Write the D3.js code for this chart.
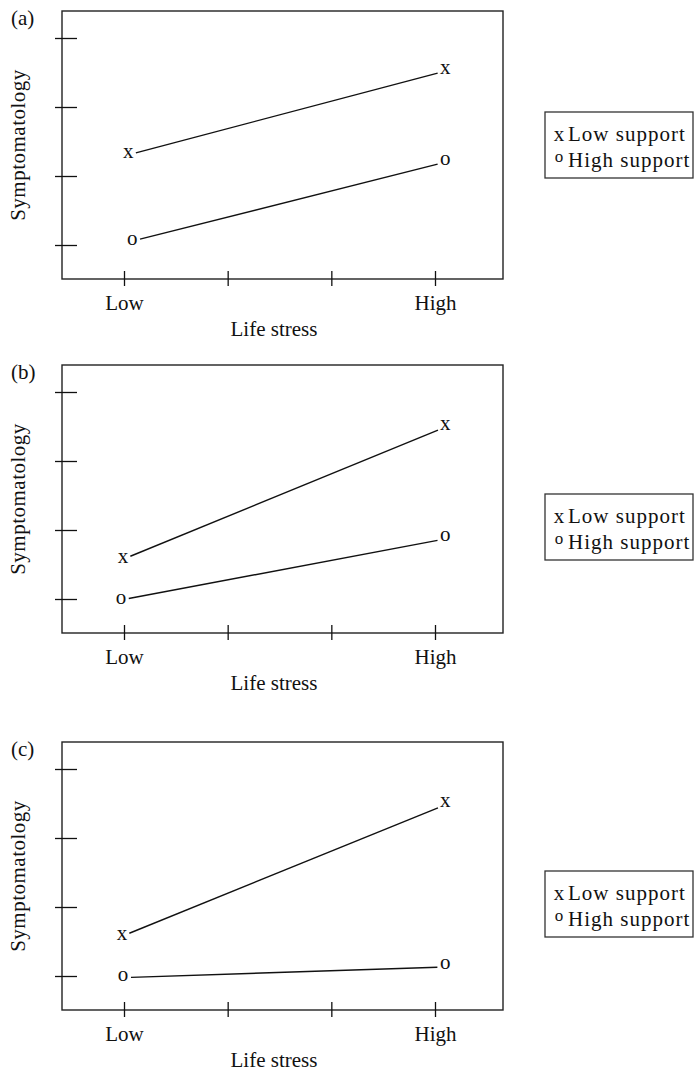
<!DOCTYPE html>
<html>
<head>
<meta charset="utf-8">
<script src="https://cdn.jsdelivr.net/npm/d3@7"></script>
<style>
  body { margin: 0; background: #fff; }
  text { font-family: "Liberation Serif", "Times New Roman", serif; fill: #111; }
</style>
</head>
<body>
<script>
// data
var panelLabels = ["(a)", "(b)", "(c)"];
var stressTicks = ["Low", "", "", "High"];
// symptomatology (y ticks at 1..4), [low stress, high stress]
var lowSupport = [[2.32, 3.55], [1.59, 3.52], [1.59, 3.51]];
var highSupport = [[1.07, 2.23], [1.00, 1.90], [0.99, 1.16]];
// where the markers sit along the stress axis (ticks at 0..3)
var lowSupportX = [[0.04, 3.10], [-0.01, 3.10], [-0.02, 3.10]];
var highSupportX = [[0.08, 3.10], [-0.03, 3.10], [-0.01, 3.10]];
var legendLabels = ["Low support", "High support"];
var markers = ["x", "o"];

var W = 694, H = 1071;
var boxLeft = 62, boxRight = 503, boxH = 268;
var tops = [11, 365, 742];
var legendTops = [112, 494, 871];
var fontSize = 21;

var svg = d3.select("body").append("svg")
    .attr("width", W)
    .attr("height", H);

var xScale = d3.scaleLinear().domain([0, 3]).range([124, 435]);

function drawPanel(p) {
    var top = tops[p];
    var bottom = top + boxH;
    var g = svg.append("g");

    var yScale = d3.scaleLinear().domain([1, 4]).range([top + 234, top + 27]);

    // frame
    g.append("rect")
        .attr("x", boxLeft)
        .attr("y", top)
        .attr("width", boxRight - boxLeft)
        .attr("height", boxH)
        .style("fill", "none")
        .style("stroke", "#222")
        .style("stroke-width", 1.4);

    // x axis ticks + labels
    var xAxis = d3.axisBottom(xScale)
        .tickValues([0, 1, 2, 3])
        .tickSize(7)
        .tickFormat(function (d) { return stressTicks[d]; });
    var gx = g.append("g")
        .attr("transform", "translate(0," + bottom + ")")
        .call(xAxis);
    gx.select(".domain").remove();
    gx.selectAll(".tick line").attr("y1", -8).style("stroke", "#111").style("stroke-width", 1.3);
    gx.selectAll(".tick text")
        .attr("y", 31).attr("dy", null)
        .style("font-family", "Liberation Serif, serif")
        .style("font-size", fontSize + "px")
        .style("fill", "#111");

    // y axis ticks, no labels
    var yAxis = d3.axisLeft(yScale)
        .tickValues([1, 2, 3, 4])
        .tickSize(7)
        .tickFormat("");
    var gy = g.append("g")
        .attr("transform", "translate(" + boxLeft + ",0)")
        .call(yAxis);
    gy.select(".domain").remove();
    gy.selectAll(".tick line").attr("x1", 15).style("stroke", "#111").style("stroke-width", 1.3);

    // axis titles
    g.append("text")
        .attr("x", 274)
        .attr("y", bottom + 57)
        .attr("text-anchor", "middle")
        .style("font-size", fontSize + "px")
        .text("Life stress");

    g.append("text")
        .attr("transform", "translate(25," + (top + boxH / 2) + ") rotate(-90)")
        .attr("text-anchor", "middle")
        .style("font-size", fontSize + "px")
        .style("letter-spacing", "0.5px")
        .text("Symptomatology");

    g.append("text")
        .attr("x", 11)
        .attr("y", top + 14)
        .style("font-size", fontSize + "px")
        .text(panelLabels[p]);

    // series
    var series = [
        { ys: lowSupport[p], xs: lowSupportX[p], m: markers[0] },
        { ys: highSupport[p], xs: highSupportX[p], m: markers[1] }
    ];
    series.forEach(function (s) {
        var x0 = xScale(s.xs[0]), y0 = yScale(s.ys[0]);
        var x1 = xScale(s.xs[1]), y1 = yScale(s.ys[1]);
        var len = Math.sqrt((x1 - x0) * (x1 - x0) + (y1 - y0) * (y1 - y0));
        var cut = 8;
        var ux = (x1 - x0) / len, uy = (y1 - y0) / len;
        g.append("line")
            .attr("x1", x0 + ux * cut)
            .attr("y1", y0 + uy * cut + 1)
            .attr("x2", x1 - ux * cut)
            .attr("y2", y1 - uy * cut + 2)
            .style("stroke", "#111")
            .style("stroke-width", 1.4);
        [0, 1].forEach(function (k) {
            g.append("text")
                .attr("x", xScale(s.xs[k]))
                .attr("y", yScale(s.ys[k]) + 4.5)
                .attr("text-anchor", "middle")
                .style("font-size", fontSize + "px")
                .text(s.m);
        });
    });

    // legend
    var lt = legendTops[p];
    var lg = svg.append("g");
    lg.append("rect")
        .attr("x", 545)
        .attr("y", lt)
        .attr("width", 148)
        .attr("height", 66)
        .style("fill", "none")
        .style("stroke", "#333")
        .style("stroke-width", 1.3);
    legendLabels.forEach(function (lab, i) {
        var base = lt + 29 + i * 26;
        lg.append("text")
            .attr("x", 559)
            .attr("y", base - (i === 1 ? 5 : 0))
            .attr("text-anchor", "middle")
            .style("font-size", (i === 1 ? 17 : fontSize) + "px")
            .text(markers[i]);
        lg.append("text")
            .attr("x", 568)
            .attr("y", base)
            .style("font-size", fontSize + "px")
            .style("letter-spacing", "1px")
            .text(lab);
    });
}

for (var p = 0; p < panelLabels.length; p++) {
    drawPanel(p);
}
</script>
</body>
</html>
